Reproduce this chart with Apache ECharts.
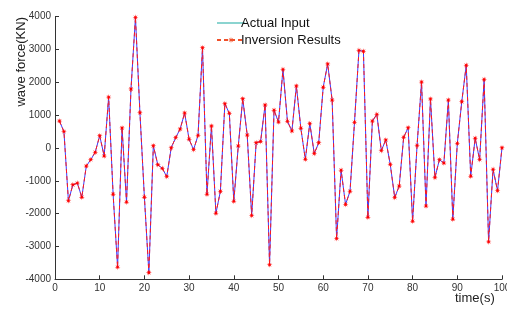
<!DOCTYPE html>
<html>
<head>
<meta charset="utf-8">
<script src="https://cdn.jsdelivr.net/npm/echarts@6/dist/echarts.min.js"></script>
<style>
  html, body { margin: 0; padding: 0; background: #fff; }
  #chart { width: 507px; height: 312px; }
</style>
</head>
<body>
<div id="chart"></div>
<script>
// sample index 1..100
const sampleIndex = [];
for (let i = 1; i <= 100; i++) sampleIndex.push(i);

// wave force (KN)
const actualInput = [
  820, 500, -1610, -1120, -1070, -1500, -550, -355, -130, 375,
  -245, 1550, -1410, -3630, 610, -1650, 1800, 3980, 1075, -1500,
  -3800, 70, -510, -620, -870, 10, 315, 580, 1065, 265,
  -50, 385, 3055, -1410, 670, -1990, -1320, 1350, 1055, -1625,
  60, 1500, 395, -2060, 160, 200, 1310, -3560, 1150, 790,
  2395, 810, 520, 1890, 600, -345, 750, -170, 160, 1850,
  2560, 1460, -2760, -675, -1720, -1320, 780, 2975, 2945, -2110,
  820, 1025, -80, 245, -500, -1510, -1160, 325, 620, -2230,
  80, 2010, -1770, 1495, -900, -355, -460, 1460, -2170, 140,
  1410, 2520, -860, 295, -355, 2090, -2860, -650, -1300, 10
];
// inversion results lie on top of the input
const inversionResults = actualInput.slice();

const xTicks = { min: 0, max: 100, interval: 10 };
const yTicks = { min: -4000, max: 4000, interval: 1000 };

const star = 'path://M10,0L3.2,1.3L7.1,7.1L1.3,3.2L0,10L-1.3,3.2L-7.1,7.1L-3.2,1.3L-10,0L-3.2,-1.3L-7.1,-7.1L-1.3,-3.2L0,-10L1.3,-3.2L7.1,-7.1L3.2,-1.3Z';

const chart = echarts.init(document.getElementById('chart'), null, { renderer: 'canvas' });
const axisCol = '#333';
const font = 'Liberation Sans, Arial, sans-serif';

chart.setOption({
  animation: false,
  grid: { left: 55, right: 5, top: 16.7, bottom: 32.7, containLabel: false, outerBoundsMode: 'none' },
  legend: {
    orient: 'vertical',
    left: 211,
    top: 11,
    itemWidth: 28,
    itemHeight: 8,
    itemGap: 3,
    textStyle: { fontFamily: font, fontSize: 13, color: '#111', lineHeight: 14, padding: [0, 0, 0, -9] },
    data: [
      { name: 'Actual Input', icon: 'path://M0,0L28,0L28,1L0,1Z', itemStyle: { color: '#16a8a0' } },
      { name: 'Inversion Results', itemStyle: { color: '#f0502a' }, lineStyle: { color: '#f0502a' } }
    ]
  },
  xAxis: {
    type: 'value',
    min: xTicks.min, max: xTicks.max, interval: xTicks.interval,
    axisLine: { onZero: false, lineStyle: { color: axisCol, width: 1 } },
    axisTick: { inside: true, length: 4, lineStyle: { color: axisCol } },
    axisLabel: { margin: 4, fontFamily: font, fontSize: 10, color: axisCol, hideOverlap: false },
    splitLine: { show: false }
  },
  yAxis: {
    type: 'value',
    min: yTicks.min, max: yTicks.max, interval: yTicks.interval,
    axisLine: { show: true, lineStyle: { color: axisCol, width: 1 } },
    axisTick: { show: true, inside: true, length: 4, lineStyle: { color: axisCol } },
    axisLabel: { margin: 4, fontFamily: font, fontSize: 10, color: axisCol, formatter: v => String(v) },
    splitLine: { show: false }
  },
  series: [
    {
      name: 'Actual Input',
      type: 'line',
      data: sampleIndex.map((x, i) => [x, actualInput[i]]),
      showSymbol: false,
      symbol: 'none',
      lineStyle: { color: '#3b3bff', width: 1 },
      itemStyle: { color: '#16a8a0' },
      z: 2
    },
    {
      name: 'Inversion Results',
      type: 'line',
      data: sampleIndex.map((x, i) => [x, inversionResults[i]]),
      symbol: star,
      symbolSize: 6,
      showAllSymbol: true,
      lineStyle: { color: '#ff1a1a', width: 1, type: [4, 3] },
      itemStyle: { color: '#ff0000' },
      z: 3
    }
  ],
  graphic: [
    {
      type: 'text',
      left: 15, top: 17,
      rotation: Math.PI / 2,
      style: { text: 'wave force(KN)', fontFamily: font, fontSize: 13, fill: '#222' }
    },
    {
      type: 'text',
      left: 455, top: 292,
      style: { text: 'time(s)', fontFamily: font, fontSize: 13, fill: '#222' }
    }
  ]
});
</script>
</body>
</html>
